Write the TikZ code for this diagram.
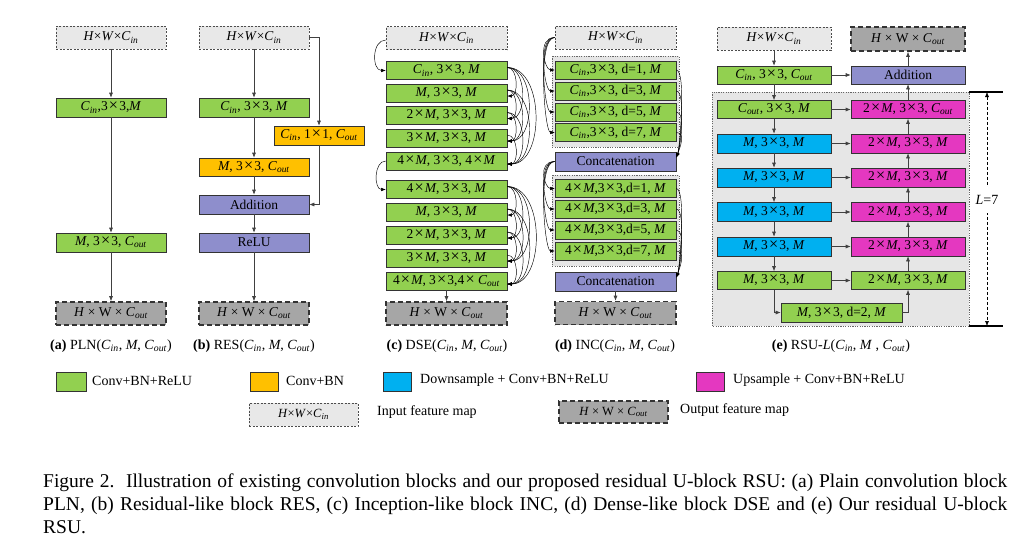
\documentclass[tikz,border=0pt]{standalone}
\usepackage{fontspec}
\setmainfont{Liberation Serif}
\usetikzlibrary{arrows.meta,calc}
\definecolor{cgreen}{RGB}{146,208,80}
\definecolor{corange}{RGB}{255,192,0}
\definecolor{cblue}{RGB}{0,176,240}
\definecolor{cpink}{RGB}{228,56,192}
\definecolor{cpurple}{RGB}{142,142,204}
\definecolor{cinfill}{RGB}{232,232,232}
\definecolor{coutfill}{RGB}{166,166,166}
\definecolor{cgroup}{RGB}{230,230,230}
\newcommand{\Cin}{\textit{C}\textsubscript{\textit{in}}}
\newcommand{\Cout}{\textit{C}\textsubscript{\textit{out}}}
\newcommand{\mM}{\textit{M}}
\newcommand{\tms}{\makebox[0.85em]{\scalebox{1.2}{×}}}
\tikzset{
 blk/.style={draw=black!80, line width=0.6pt, minimum height=18pt, inner sep=0pt, font=\fontsize{13.5}{15}\selectfont},
 gblk/.style={blk, fill=cgreen},
 oblk/.style={blk, fill=corange},
 bblk/.style={blk, fill=cblue},
 pblk/.style={blk, fill=cpink},
 ublk/.style={blk, fill=cpurple},
 inmap/.style={blk, fill=cinfill, draw=black!70, dash pattern=on 2pt off 1.5pt, line width=0.6pt, minimum height=23pt},
 outmap/.style={blk, fill=coutfill, draw=black!80, dash pattern=on 5pt off 3pt, line width=1.6pt, minimum height=23pt},
 grp/.style={fill=cgroup, draw=black!60, dash pattern=on 1.2pt off 1.2pt, line width=0.6pt},
 arr/.style={draw=black!75, line width=0.6pt, -{Latex[length=5pt,width=4pt]}},
 darr/.style={draw=black, line width=0.45pt, -{Latex[length=4.5pt,width=3.5pt]}},
 lab/.style={font=\fontsize{14}{16}\selectfont},
 legsq/.style={draw=black!80, line width=0.6pt, minimum width=28pt, minimum height=19pt, inner sep=0pt},
}
\begin{document}
\begin{tikzpicture}[x=1pt,y=-1pt]
\fill[white] (0,0) rectangle (1023,544);
\useasboundingbox (0,0) rectangle (1023,544);

% ---------- (a) PLN ----------
\node[inmap, minimum width=110pt] (aIn) at (111,37.5) {\textit{H}×\textit{W}×\Cin};
\node[gblk, minimum width=110pt, minimum height=19pt] (a1) at (111,107.5) {\Cin,3\tms3,\mM};
\node[gblk, minimum width=110pt, minimum height=19pt] (a2) at (111,242.5) {\mM, 3\tms3, \Cout};
\node[outmap, minimum width=110pt] (aOut) at (111,313.5) {\textit{H} × W × \Cout};
\draw[arr] (aIn) -- (a1);
\draw[arr] (a1) -- (a2);
\draw[arr] (a2) -- (aOut);
\node[lab] (aLab) at (111,346) {\textbf{(a)} PLN(\Cin, \mM, \Cout)};

% ---------- (b) RES ----------
\node[inmap, minimum width=110pt] (bIn) at (254,37.5) {\textit{H}×\textit{W}×\Cin};
\node[gblk, minimum width=110pt, minimum height=19pt] (b1) at (254,107.5) {\Cin, 3\tms3, \mM};
\node[oblk, minimum width=90pt, minimum height=19pt] (b2) at (319,135.5) {\Cin, 1\tms1, \Cout};
\node[oblk, minimum width=110pt, minimum height=18pt] (b3) at (254,167) {\mM, 3\tms3, \Cout};
\node[ublk, minimum width=110pt, minimum height=19pt] (bAdd) at (254,204.5) {Addition};
\node[ublk, minimum width=110pt, minimum height=19pt] (bRelu) at (254,242.5) {ReLU};
\node[outmap, minimum width=110pt] (bOut) at (254,313.5) {\textit{H} × W × \Cout};
\draw[arr] (bIn) -- (b1);
\draw[arr] (b1) -- (b3);
\draw[arr] (b3) -- (bAdd);
\draw[arr] (bAdd) -- (bRelu);
\draw[arr] (bRelu) -- (bOut);
\draw[arr] (bIn.east) -| (b2.north);
\draw[arr] (b2.south) |- (bAdd.east);
\node[lab] (bLab) at (254,346) {\textbf{(b)} RES(\Cin, \mM, \Cout)};

% ---------- (c) DSE ----------
\node[inmap, minimum width=121pt] (cIn) at (446.5,38) {\textit{H}×\textit{W}×\Cin};
\foreach \n/\y/\t in {
 1/70.5/{\Cin, 3\tms3, \mM},
 2/93/{\mM, 3\tms3, \mM},
 3/115.5/{2\tms\mM, 3\tms3, \mM},
 4/138/{3\tms\mM, 3\tms3, \mM},
 5/161/{4\tms\mM, 3\tms3, 4\tms\mM},
 6/189.5/{4\tms\mM, 3\tms3, \mM},
 7/212/{\mM, 3\tms3, \mM},
 8/235/{2\tms\mM, 3\tms3, \mM},
 9/258/{3\tms\mM, 3\tms3, \mM},
 10/281/{4\tms\mM, 3\tms3,4\tms\,\Cout}}
 {\node[gblk, minimum width=121pt] (c\n) at (446.5,\y) {\t};}
\node[outmap, minimum width=121pt] (cOut) at (446.5,313.5) {\textit{H} × W × \Cout};
\draw[darr] ([yshift=-2pt]cIn.west) to[out=180,in=180,distance=14pt] (c1.west);
\draw[darr] (c5.west) to[out=180,in=180,distance=12pt] (c6.west);
\foreach \i/\js in {1/{2,3,4,5},2/{3,4,5},3/{4,5},4/{5},6/{7,8,9,10},7/{8,9,10},8/{9,10},9/{10}}
 {\foreach \j in \js
   {\draw[darr] ([yshift=3pt]c\i.east) to[out=0,in=0,looseness=1] ([yshift=-3pt]c\j.east);}}
\draw[arr] (c10) -- (cOut);
\node[lab] (cLab) at (447,346) {\textbf{(c)} DSE(\Cin, \mM, \Cout)};

% ---------- (d) INC ----------
\node[inmap, minimum width=121pt] (dIn) at (615.5,37.5) {\textit{H}×\textit{W}×\Cin};
\draw[grp] (552,56) rectangle (679,147);
\draw[grp] (552,175) rectangle (679,266);
\foreach \n/\y/\d in {1/70/1,2/91/3,3/112/5,4/132.5/7}
 {\node[gblk, minimum width=121pt] (d\n) at (615.5,\y) {\Cin,3\tms3, d=\d, \mM};}
\node[ublk, minimum width=121pt, minimum height=19pt] (dCat1) at (615.5,161.5) {Concatenation};
\foreach \n/\y/\d in {5/188.5/1,6/209/3,7/230/5,8/251/7}
 {\node[gblk, minimum width=121pt] (d\n) at (615.5,\y) {4\tms\mM,3\tms3,d=\d, \mM};}
\node[ublk, minimum width=121pt, minimum height=19pt] (dCat2) at (615.5,281.5) {Concatenation};
\node[outmap, minimum width=121pt] (dOut) at (615.5,313) {\textit{H} × W × \Cout};
\foreach \k in {1,2,3,4}
 {\draw[darr] (dIn.west) to[out=180,in=180,out distance=18pt,in distance=10pt] (d\k.west);
  \draw[darr] (d\k.east) to[out=0,in=70,out distance=10pt,in distance=10pt] ([yshift=4pt]dCat1.east);}
\foreach \k in {5,6,7,8}
 {\draw[darr] (dCat1.west) to[out=180,in=180,out distance=18pt,in distance=10pt] (d\k.west);
  \draw[darr] (d\k.east) to[out=0,in=70,out distance=10pt,in distance=10pt] ([yshift=4pt]dCat2.east);}
\draw[arr] (dCat2) -- (dOut);
\node[lab] (dLab) at (615,346) {\textbf{(d)} INC(\Cin, \mM, \Cout)};

% ---------- (e) RSU ----------
\draw[grp] (712,92) rectangle (969,326);
\node[inmap, minimum width=114pt] (eIn) at (774,38.5) {\textit{H}×\textit{W}×\Cin};
\node[outmap, minimum width=114pt, minimum height=24pt] (eOut) at (908,39) {\textit{H} × W × \Cout};
\node[gblk, minimum width=114pt] (e0) at (774,75) {\Cin, 3\tms3, \Cout};
\node[ublk, minimum width=114pt] (eAdd) at (908,75) {Addition};
\node[gblk, minimum width=114pt] (eL1) at (774,109.5) {\Cout, 3\tms3, \mM};
\node[bblk, minimum width=114pt, minimum height=19pt] (eL2) at (774,143.5) {\mM, 3\tms3, \mM};
\node[bblk, minimum width=114pt, minimum height=19pt] (eL3) at (774,177.5) {\mM, 3\tms3, \mM};
\node[bblk, minimum width=114pt, minimum height=19pt] (eL4) at (774,212) {\mM, 3\tms3, \mM};
\node[bblk, minimum width=114pt, minimum height=19pt] (eL5) at (774,246.5) {\mM, 3\tms3, \mM};
\node[gblk, minimum width=114pt] (eL6) at (774,280.5) {\mM, 3\tms3, \mM};
\node[pblk, minimum width=114pt] (eR1) at (908,109.5) {2\tms\mM, 3\tms3, \Cout};
\node[pblk, minimum width=114pt, minimum height=19pt] (eR2) at (908,143.5) {2\tms\mM, 3\tms3, \mM};
\node[pblk, minimum width=114pt, minimum height=19pt] (eR3) at (908,177.5) {2\tms\mM, 3\tms3, \mM};
\node[pblk, minimum width=114pt, minimum height=19pt] (eR4) at (908,212) {2\tms\mM, 3\tms3, \mM};
\node[pblk, minimum width=114pt, minimum height=19pt] (eR5) at (908,246.5) {2\tms\mM, 3\tms3, \mM};
\node[gblk, minimum width=114pt] (eR6) at (908,280.5) {2\tms\mM, 3\tms3, \mM};
\node[gblk, minimum width=121pt, minimum height=19pt] (eB) at (841.5,312.5) {\mM, 3\tms3, d=2, \mM};
\draw[arr] (eIn) -- (e0);
\draw[arr] (e0) -- (eL1);
\draw[arr] (e0) -- (eAdd);
\foreach \a/\b in {1/2,2/3,3/4,4/5,5/6}
 {\draw[arr] (eL\a) -- (eL\b);
  \draw[arr] (eR\b) -- (eR\a);}
\foreach \k in {1,...,6} {\draw[arr] (eL\k) -- (eR\k);}
\draw[arr] (eL6.south) |- (eB.west);
\draw[arr] (eB.east) -| (eR6.south);
\draw[arr] (eR1) -- (eAdd);
\draw[arr] (eAdd) -- (eOut);
\coordinate (Lt0) at (969,92);
\coordinate (Lt1) at (1003,92);
\coordinate (Lb0) at (969,326);
\coordinate (Lb1) at (1003,326);
\coordinate (Lt) at (987,92);
\coordinate (Lb) at (987,326);
\draw[line width=1.2pt] (Lt0) -- (Lt1);
\draw[line width=1.2pt] (Lb0) -- (Lb1);
\draw[line width=0.5pt, dash pattern=on 3pt off 2pt, {Latex[length=5pt,width=4pt]}-{Latex[length=5pt,width=4pt]}] (Lt) -- (Lb);
\node[lab, fill=white, inner sep=2pt, minimum height=26pt] (Llab) at (987,200) {\textit{L}=7};
\node[lab] (eLab) at (841,346) {\textbf{(e)} RSU-\textit{L}(\Cin, \mM\ , \Cout)};

% ---------- legend ----------
\node[legsq, fill=cgreen, minimum width=30pt] (lg1) at (71,381.5) {};
\node[lab, anchor=west, inner sep=0pt] (lt1) at (92,380.5) {Conv+BN+ReLU};
\node[legsq, fill=corange] (lg2) at (264,381.5) {};
\node[lab, anchor=west, inner sep=0pt] (lt2) at (286,380.5) {Conv+BN};
\node[legsq, fill=cblue] (lg3) at (397.5,381.5) {};
\node[lab, anchor=west, inner sep=0pt] (lt3) at (420,380.5) {Downsample + Conv+BN+ReLU};
\node[legsq, fill=cpink] (lg4) at (710.5,381.5) {};
\node[lab, anchor=west, inner sep=0pt] (lt4) at (733,380.5) {Upsample + Conv+BN+ReLU};
\node[inmap, minimum width=109pt, font=\fontsize{12.5}{14}\selectfont] (lg5) at (303.5,414.5) {\textit{H}×\textit{W}×\Cin};
\node[lab, anchor=west, inner sep=0pt] (lt5) at (377,412) {Input feature map};
\node[outmap, minimum width=109pt, minimum height=22pt, font=\fontsize{12.5}{14}\selectfont] (lg6) at (613.5,412) {\textit{H} × W × \Cout};
\node[lab, anchor=west, inner sep=0pt] (lt6) at (680,410) {Output feature map};

% ---------- caption ----------
\node[anchor=base west, inner sep=0pt, font=\fontsize{19.5}{23}\selectfont] (cap1) at (43,487)
 {\makebox[964pt][s]{Figure 2.\ \ Illustration of existing convolution blocks and our proposed residual U-block RSU: (a) Plain convolution block}};
\node[anchor=base west, inner sep=0pt, font=\fontsize{19.5}{23}\selectfont] (cap2) at (43,510)
 {\makebox[964pt][s]{PLN, (b) Residual-like block RES, (c) Inception-like block INC, (d) Dense-like block DSE and (e) Our residual U-block}};
\node[anchor=base west, inner sep=0pt, font=\fontsize{19.5}{23}\selectfont] (cap3) at (43,533) {RSU.};
\end{tikzpicture}
\end{document}
